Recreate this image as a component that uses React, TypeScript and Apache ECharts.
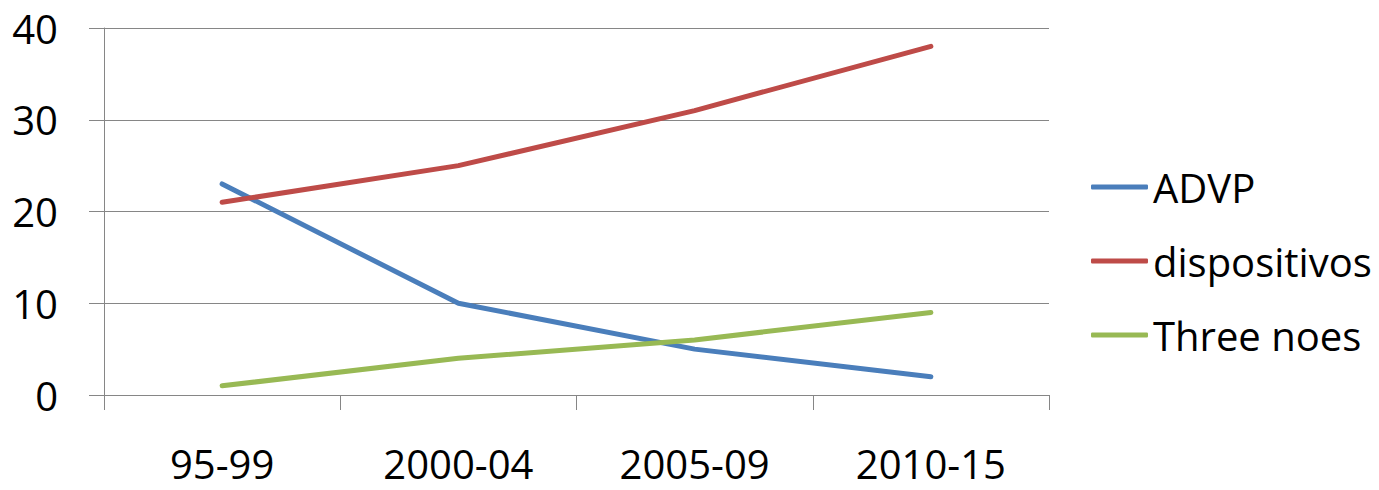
import React, { useEffect, useRef } from "react";
import * as echarts from "echarts";

const categories = ["95-99", "2000-04", "2005-09", "2010-15"];
const advp = [23, 10, 5, 2];
const dispositivos = [21, 25, 31, 38];
const threeNoes = [1, 4, 6, 9];
const seriesNames = ["ADVP", "dispositivos", "Three noes"];
const colors = ["#4A7EBB", "#BE4B48", "#98B954"];

export default function App() {
  const ref = useRef<HTMLDivElement>(null);
  useEffect(() => {
    if (!ref.current) return;
    const chart = echarts.init(ref.current, null, { renderer: "svg" });
    const font = "'Open Sans', sans-serif";
    const mk = (name: string, data: number[], color: string) => ({
      name,
      type: "line",
      data,
      symbol: "none",
      lineStyle: { color, width: 5, cap: "round" },
      itemStyle: { color },
    });
    chart.setOption({
      animation: false,
      backgroundColor: "#ffffff",
      color: colors,
      grid: { left: 104, right: 330, top: 28, bottom: 95, containLabel: false },
      legend: {
        orient: "vertical",
        left: 1086,
        top: 160,
        icon: "roundRect",
        itemWidth: 57,
        itemHeight: 5,
        itemGap: 30,
        textStyle: { fontFamily: font, fontSize: 40, color: "#000", lineHeight: 44, padding: [0, 0, 0, 0] },
        data: seriesNames,
      },
      xAxis: {
        type: "category",
        data: categories,
        boundaryGap: true,
        axisLine: { show: true, lineStyle: { color: "#868686", width: 1 } },
        axisTick: { show: true, length: 15, lineStyle: { color: "#868686" } },
        axisLabel: { fontFamily: font, fontSize: 40, color: "#000", margin: 48 },
        splitLine: { show: false },
      },
      yAxis: {
        type: "value",
        min: 0,
        max: 40,
        interval: 10,
        axisLine: { show: true, lineStyle: { color: "#868686", width: 1 } },
        axisTick: { show: true, length: 15, lineStyle: { color: "#868686" } },
        axisLabel: { fontFamily: font, fontSize: 40, color: "#000", margin: 46 },
        splitLine: { show: true, lineStyle: { color: "#868686", width: 1 } },
      },
      series: [
        mk(seriesNames[0], advp, colors[0]),
        mk(seriesNames[1], dispositivos, colors[1]),
        mk(seriesNames[2], threeNoes, colors[2]),
      ],
    });
    return () => chart.dispose();
  }, []);
  return <div ref={ref} style={{ width: 1379, height: 490, position: "absolute", left: 0, top: 0 }} />;
}
